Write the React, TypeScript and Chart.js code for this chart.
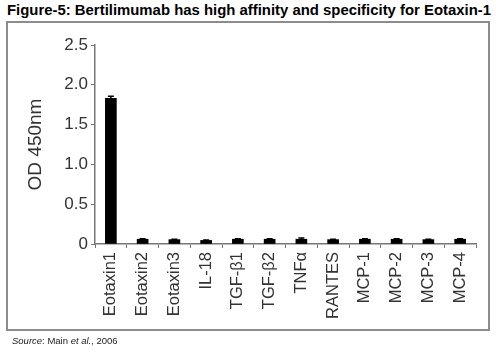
import React, { useEffect, useRef } from "react";
import { Chart, registerables } from "chart.js";

Chart.register(...registerables);

const categories = ["Eotaxin1", "Eotaxin2", "Eotaxin3", "IL-18", "TGF-β1", "TGF-β2", "TNFα", "RANTES", "MCP-1", "MCP-2", "MCP-3", "MCP-4"];
const odValues = [1.83, 0.06, 0.055, 0.045, 0.06, 0.06, 0.06, 0.055, 0.06, 0.06, 0.055, 0.06];
const odErrors = [0.025, 0.005, 0.005, 0.005, 0.005, 0.005, 0.015, 0.005, 0.005, 0.005, 0.005, 0.005];
const yTicks = [0, 0.5, 1.0, 1.5, 2.0, 2.5];

const FONT = "'Liberation Sans', Arial, sans-serif";

const errorBarPlugin = {
  id: "errorBars",
  afterDatasetsDraw(chart: any) {
    const { ctx, scales } = chart;
    const meta = chart.getDatasetMeta(0);
    ctx.save();
    ctx.strokeStyle = "#000";
    ctx.lineWidth = 1.5;
    meta.data.forEach((bar: any, i: number) => {
      const v = odValues[i];
      const e = odErrors[i];
      const x = bar.x;
      const yTop = scales.y.getPixelForValue(v + e);
      const yMid = scales.y.getPixelForValue(v);
      ctx.beginPath();
      ctx.moveTo(x, yMid);
      ctx.lineTo(x, yTop);
      ctx.moveTo(x - 3, yTop);
      ctx.lineTo(x + 3, yTop);
      ctx.stroke();
    });
    ctx.restore();
  },
};

export default function App() {
  const ref = useRef<HTMLCanvasElement | null>(null);
  useEffect(() => {
    if (!ref.current) return;
    const chart = new Chart(ref.current, {
      type: "bar",
      data: {
        labels: categories,
        datasets: [
          {
            data: odValues,
            backgroundColor: "#000",
            borderWidth: 0,
            barThickness: 11,
          },
        ],
      },
      plugins: [errorBarPlugin],
      options: {
        animation: false,
        responsive: false,
        maintainAspectRatio: false,
        layout: { padding: { left: 10, right: 20, top: 45, bottom: 26 } },
        plugins: { legend: { display: false }, tooltip: { enabled: false } },
        scales: {
          x: {
            grid: { display: true, drawOnChartArea: false, offset: true, tickLength: 4, color: "#777" },
            border: { display: true, color: "#777", width: 1.5 },
            ticks: {
              color: "#333",
              font: { family: FONT, size: 16.5 },
              minRotation: 90,
              maxRotation: 90,
              autoSkip: false,
              padding: 4,
            },
            afterFit: (s: any) => {
              s.height = 83;
            },
          },
          y: {
            min: 0,
            max: 2.5,
            afterBuildTicks: (s: any) => {
              s.ticks = yTicks.map((v) => ({ value: v }));
            },
            grid: { display: true, drawOnChartArea: false, tickLength: 4, color: "#777" },
            border: { display: true, color: "#777", width: 1.5 },
            ticks: {
              color: "#333",
              font: { family: FONT, size: 17 },
              padding: 3,
              callback: (v: any) => (v === 0 ? "0" : Number(v).toFixed(1)),
            },
            title: {
              display: true,
              text: "OD 450nm",
              color: "#333",
              font: { family: FONT, size: 19 },
              padding: { top: 14, bottom: 0 },
            },
            afterFit: (s: any) => {
              s.width = 85;
            },
          },
        },
      },
    });
    return () => chart.destroy();
  }, []);

  return (
    <div style={{ position: "absolute", left: 0, top: 0, width: 496, height: 353, background: "#fff", overflow: "hidden" }}>
      <div
        style={{
          position: "absolute",
          left: 7,
          top: 2,
          fontFamily: FONT,
          fontWeight: "bold",
          fontSize: 14.9,
          color: "#000",
          whiteSpace: "nowrap",
        }}
      >
        Figure-5: Bertilimumab has high affinity and specificity for Eotaxin-1
      </div>
      <div
        style={{
          position: "absolute",
          left: 6,
          top: 21,
          width: 480,
          height: 306,
          border: "2px solid #8c8c8c",
        }}
      />
      <canvas ref={ref} width={496} height={353} style={{ position: "absolute", left: 0, top: 0 }} />
      <div
        style={{
          position: "absolute",
          left: 12,
          top: 335,
          fontFamily: FONT,
          fontSize: 9.5,
          color: "#222",
          whiteSpace: "nowrap",
        }}
      >
        <i>Source</i>: Main <i>et al.</i>, 2006
      </div>
    </div>
  );
}
